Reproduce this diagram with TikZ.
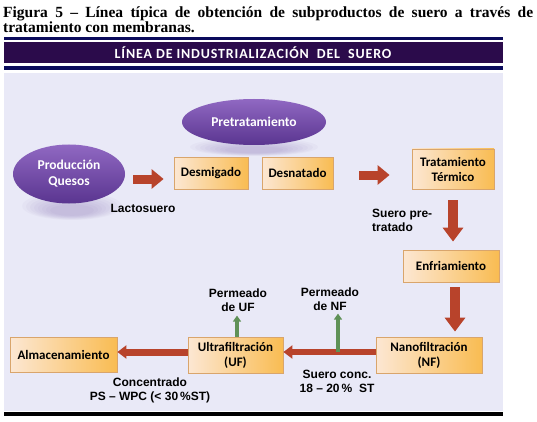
\documentclass[tikz,border=0pt]{standalone}
\usepackage{fontspec}
\setmainfont{Liberation Serif}
\newfontfamily\boxfont{Carlito}
\newfontfamily\lblfont{Liberation Sans}
\usetikzlibrary{shapes.geometric,arrows.meta}
\definecolor{bgpanel}{HTML}{E9E9F7}
\definecolor{navyline}{HTML}{0B0B5C}
\definecolor{bandpurple}{HTML}{2B0B4B}
\definecolor{ellipsetop}{HTML}{9068C2}
\definecolor{ellipsebot}{HTML}{5A3590}
\definecolor{boxlight}{HTML}{FCE7D3}
\definecolor{boxdark}{HTML}{F9BC52}
\definecolor{boxedge}{HTML}{D9A56C}
\definecolor{flowred}{HTML}{B8432B}
\definecolor{permgreen}{HTML}{5F9157}
\tikzset{
  stage/.style={draw=boxedge,line width=0.8pt,left color=boxlight,right color=boxdark,
    font=\boxfont\bfseries\fontsize{13}{15}\selectfont,align=center,inner sep=1pt},
  cloud/.style={ellipse,top color=ellipsetop,bottom color=ellipsebot,text=white,
    font=\boxfont\bfseries\fontsize{13.5}{16}\selectfont,align=center,inner sep=0pt},
  tag/.style={font=\lblfont\bfseries\fontsize{12}{14}\selectfont,align=center,inner sep=1pt},
  flow/.style={draw=flowred,line width=9pt,-{Triangle[length=12pt,width=19pt]}},
  flowdown/.style={draw=flowred,line width=10pt,-{Triangle[length=14pt,width=20pt]}},
  flowthin/.style={draw=flowred,line width=6pt,-{Triangle[length=9pt,width=13pt]}},
  perm/.style={draw=permgreen,line width=3.5pt,-{Triangle[length=6pt,width=8pt]}},
  glow/.style={fill=ellipsebot,fill opacity=0.03}
}
\begin{document}
\begin{tikzpicture}[x=1pt,y=-1pt]
  \useasboundingbox (0,0) rectangle (537,422);
  % caption
  \node[anchor=base west,inner sep=0pt,font=\bfseries\fontsize{15.5}{16}\selectfont] (capA) at (3,17.5)
    {\makebox[530pt][s]{Figura 5 – Línea típica de obtención de subproductos de suero a través de}};
  \node[anchor=base west,inner sep=0pt,font=\bfseries\fontsize{15.5}{16}\selectfont] (capB) at (3,33)
    {tratamiento con membranas.};
  % panel
  \fill[navyline] (4,37) rectangle (503,40.5);
  \fill[bandpurple] (4,42) rectangle (503,63);
  \fill[navyline] (4,66.5) rectangle (503,70);
  \fill[bgpanel] (4,73) rectangle (503,411);
  \fill[black] (4,412) rectangle (503,415.5);
  \node[text=white,font=\boxfont\bfseries\fontsize{14}{16}\selectfont\addfontfeatures{LetterSpace=6}] (title) at (253,53)
    {LÍNEA DE INDUSTRIALIZACIÓN~~DEL~~SUERO};
  % reflections
  \foreach \k in {0,...,7}{
    \fill[glow] (72,{206+\k*0.6}) ellipse ({50-\k*4} and {14-\k*1.2});
    \fill[glow] (254,{147+\k*0.4}) ellipse ({64-\k*5} and {9-\k*0.8});
  }
  % stages
  \node[cloud,minimum width=112pt,minimum height=59pt] (prod) at (69,174) {Producción\\Quesos};
  \node[cloud,minimum width=144pt,minimum height=46pt] (pre) at (254,122) {Pretratamiento};
  \node[stage,minimum width=74pt,minimum height=32pt] (desm) at (211,173) {Desmigado};
  \node[stage,minimum width=71pt,minimum height=32pt] (desn) at (297.5,173) {Desnatado};
  \node[stage,minimum width=82pt,minimum height=40pt] (term) at (453,169) {Tratamiento\\Térmico};
  \node[stage,minimum width=96pt,minimum height=32pt] (enfr) at (451,266) {Enfriamiento};
  \node[stage,minimum width=106pt,minimum height=36pt] (nano) at (429,355) {Nanofiltración\\(NF)};
  \node[stage,minimum width=95pt,minimum height=36pt] (ultra) at (235.5,355) {Ultrafiltración\\(UF)};
  \node[stage,minimum width=107pt,minimum height=35pt] (alm) at (63.5,354.5) {Almacenamiento};
  % labels
  \node[tag] (lacto) at (143,208) {Lactosuero};
  \node[tag,anchor=west,align=left] (suerop) at (371,220) {Suero pre-\\tratado};
  \node[tag] (permuf) at (238,300) {Permeado\\de UF};
  \node[tag] (permnf) at (330,299) {Permeado\\de NF};
  \node[tag] (sconc) at (337,381) {Suero conc.\\18 – 20\,\%~~ST};
  \node[tag] (concen) at (150,390) {Concentrado\\PS – WPC (< 30\,\%ST)};
  % flows
  \draw[flow,shorten <=8pt,shorten >=10pt] ([yshift=-5pt]prod.east) -- ([yshift=-5pt]prod.east -| desm.west);
  \draw[flow,shorten <=26pt,shorten >=22pt] ([yshift=-2pt]desn.east) -- ([yshift=-2pt]desn.east -| term.west);
  \draw[flowdown,shorten <=11pt,shorten >=8pt] (term.south) -- (term.south |- enfr.north);
  \draw[flowdown,shorten <=5pt,shorten >=5pt] ([xshift=4pt]enfr.south) -- ([xshift=4pt]enfr.south |- nano.north);
  \draw[flowthin] ([yshift=3pt]nano.west) -- ([yshift=3pt]nano.west -| ultra.east);
  \draw[flowthin,line width=7pt] ([yshift=3pt]ultra.west) -- ([yshift=3pt]ultra.west -| alm.east);
  \coordinate (tap) at (338,352);
  \draw[perm,shorten >=2pt] (tap) -- (tap |- permnf.south);
  \draw[perm,shorten >=3pt] ([xshift=1.5pt]ultra.north) -- ([xshift=1.5pt]ultra.north |- permuf.south);
\end{tikzpicture}
\end{document}
